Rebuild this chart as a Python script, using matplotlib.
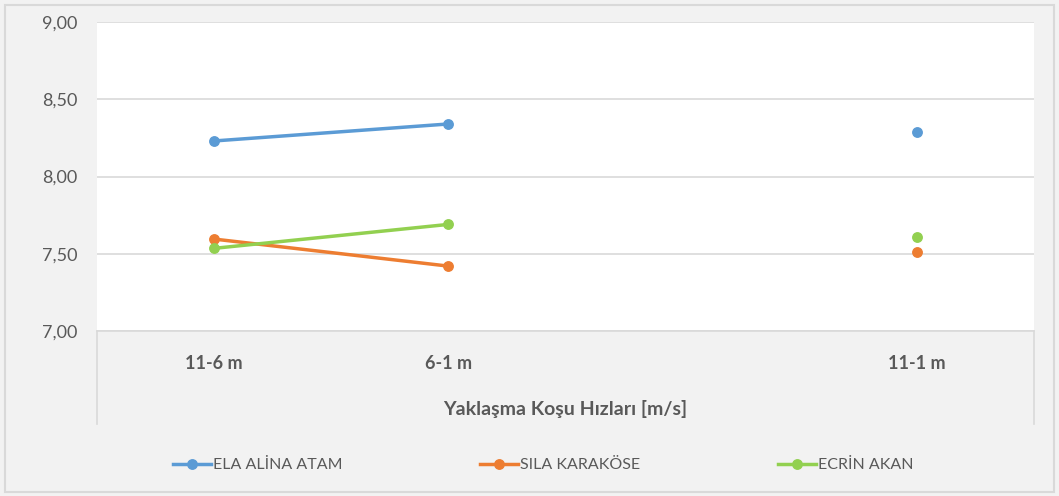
import numpy as np
import matplotlib.pyplot as plt
from matplotlib.lines import Line2D
from matplotlib.patches import Rectangle

plt.rcParams['font.family'] = ['Lato', 'DejaVu Sans']

categories = ["11-6 m", "6-1 m", "", "11-1 m"]
ela = [8.23, 8.34, np.nan, 8.29]
sila = [7.595, 7.42, np.nan, 7.51]
ecrin = [7.535, 7.69, np.nan, 7.61]
names = ["ELA ALİNA ATAM", "SILA KARAKÖSE", "ECRİN AKAN"]
colors = ["#5B9BD5", "#ED7D31", "#92D050"]
yticks = [7.0, 7.5, 8.0, 8.5, 9.0]

W, H = 1059, 496
fig = plt.figure(figsize=(W / 100, H / 100), dpi=100, facecolor="#F2F2F2")
ax = fig.add_axes([97 / W, 1 - 331 / H, (1034 - 97) / W, (331 - 22) / H])
ax.set_facecolor("white")

x = np.arange(len(categories))
for vals, c in zip([ela, sila, ecrin], colors):
    ax.plot(x, vals, color=c, lw=2.5, marker="o", ms=6.8, solid_capstyle="round")

ax.set_xlim(-0.5, len(categories) - 0.5)
ax.set_ylim(7.0, 9.0)
ax.set_yticks(yticks)
ax.set_yticklabels([f"{v:.2f}".replace(".", ",") for v in yticks])
ax.set_xticks(x)
ax.set_xticklabels(categories, fontweight="bold")
ax.tick_params(axis="y", length=0, pad=14, labelsize=13, labelcolor="#595959")
ax.tick_params(axis="x", length=0, pad=17, labelsize=13, labelcolor="#595959")
ax.grid(axis="y", color="#D9D9D9", lw=1.2)
ax.set_axisbelow(True)
for s in ["left", "right", "top"]:
    ax.spines[s].set_visible(False)
ax.spines["bottom"].set_color("#D9D9D9")
ax.spines["bottom"].set_linewidth(1.2)

# category area side lines
for xp in [97, 1034]:
    fig.add_artist(Line2D([xp / W, xp / W], [1 - 331 / H, 1 - 424 / H],
                          color="#D9D9D9", lw=1.2))

fig.text(565.5 / W, 1 - 409 / H, "Yaklaşma Koşu Hızları [m/s]", ha="center",
         va="center", fontsize=14, fontweight="bold", color="#595959")

# legend entries
starts = [173, 480, 778]
for name, c, xs in zip(names, colors, starts):
    h = Line2D([], [], color=c, lw=2.5, marker="o", ms=6.8)
    fig.legend(handles=[h], labels=[name], loc="center left",
               bbox_to_anchor=(xs / W, 1 - 465 / H), frameon=False,
               handlelength=2.4, handletextpad=0.1, borderpad=0,
               borderaxespad=0, fontsize=11.5, labelcolor="#595959")

fig.add_artist(Rectangle((5 / W, 4 / H), (W - 10) / W, (H - 9) / H,
                         fill=False, edgecolor="#D9D9D9", lw=1.5))

fig.savefig("out.png", dpi=100, facecolor=fig.get_facecolor())
